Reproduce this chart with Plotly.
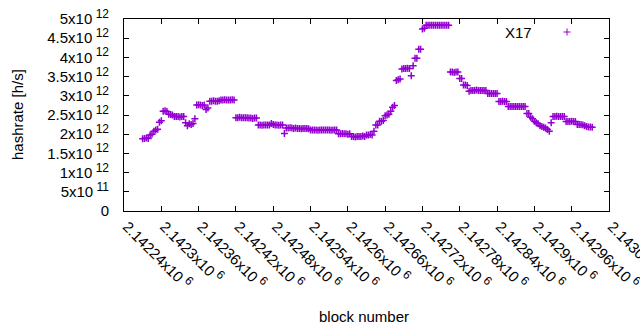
import plotly.graph_objects as go

# block numbers (every 3rd block) and hashrate (units of 1e12 h/s)
block_start = 2142270
block_step = 3
hashrate_t = [
    1.88, 1.89, 1.90, 1.89,              # 2142270-279
    1.98, 2.00,                          # 282-285
    2.08, 2.11, 2.13,                    # 288-294
    2.31, 2.35,                          # 297-300
    2.60, 2.61, 2.59,                    # 303-309
    2.52, 2.51, 2.50,                    # 312-318
    2.46, 2.46, 2.46, 2.45, 2.46, 2.46,  # 321-336
    2.30, 2.22, 2.27, 2.25, 2.28,        # 339-351
    2.40,                                # 354
    2.76, 2.77, 2.76, 2.75, 2.76,        # 357-369
    2.64, 2.68,                          # 372-375
    2.86, 2.86, 2.87, 2.86, 2.86, 2.87,  # 378-393
    2.89, 2.89, 2.90, 2.89, 2.89, 2.89, 2.90, 2.89,  # 396-417
    2.43, 2.43, 2.44, 2.43, 2.43, 2.43, 2.43,        # 420-438
    2.42, 2.42, 2.41, 2.42, 2.42,        # 441-453
    2.24, 2.24, 2.23, 2.24, 2.24, 2.24, 2.24, 2.28,  # 456-477
    2.25, 2.24, 2.24, 2.23, 2.24, 2.24, 2.02,        # 480-498
    2.16, 2.16, 2.17, 2.16, 2.15, 2.16,  # 501-516
    2.15, 2.15, 2.14, 2.15, 2.15, 2.15, 2.14,        # 519-537
    2.11, 2.11, 2.11, 2.11, 2.10, 2.11, 2.11, 2.11, 2.11, 2.11, 2.11, 2.10, 2.11, 2.11, 2.11,  # 540-582
    2.01, 2.01, 2.02, 2.01, 2.01, 2.00, 2.01,        # 585-603
    1.94, 1.94, 1.93, 1.94, 1.94, 1.94, 1.95, 1.94,  # 606-627
    1.98, 1.98, 1.99, 1.98,              # 630-639
    2.08,                                # 642
    2.24, 2.24, 2.34, 2.34, 2.36,        # 645-657
    2.48, 2.50, 2.52,                    # 660-666
    2.60, 2.70, 2.75,                    # 669-675
    3.40, 3.42, 3.44,                    # 678-684
    3.70, 3.71, 3.71, 3.72, 3.71,        # 687-699
    3.52, 3.78,                          # 702-705
    3.98, 3.98,                          # 708-711
    4.21, 4.21,                          # 714-717
    4.74, 4.76,                          # 720-723
    4.84, 4.84, 4.84, 4.84, 4.84, 4.84, 4.84, 4.84, 4.84, 4.84, 4.84, 4.84, 4.84,  # 726-762
    3.62, 3.62, 3.61, 3.62, 3.62,        # 765-777
    3.45, 3.45,                          # 780-783
    3.28, 3.28, 3.27,                    # 786-792
    3.12,                                # 795
    3.14, 3.14, 3.14, 3.15, 3.14, 3.14, 3.14, 3.14, 3.14,  # 798-822
    3.06, 3.06, 3.06, 3.06, 3.06, 3.06,  # 825-840
    2.85, 2.85, 2.86, 2.85, 2.85,        # 843-855
    2.72, 2.72, 2.72, 2.72, 2.72, 2.72, 2.72, 2.72, 2.72, 2.72,  # 858-885
    2.54, 2.54,                          # 888-891
    2.44, 2.40, 2.34, 2.30, 2.27,        # 894-906
    2.22, 2.20, 2.18, 2.16, 2.12, 2.08,  # 909-924
    2.30,                                # 927
    2.46, 2.46, 2.47, 2.46, 2.46, 2.46, 2.46,  # 930-948
    2.33, 2.33, 2.33, 2.34, 2.33, 2.33,  # 951-966
    2.25, 2.25, 2.25, 2.24, 2.22, 2.20, 2.19, 2.19, 2.18,  # 969-993
]
blocks = [block_start + block_step * i for i in range(len(hashrate_t))]
hashrate = [v * 1e12 for v in hashrate_t]

x_tickvals = [2142240, 2142300, 2142360, 2142420, 2142480, 2142540, 2142600,
              2142660, 2142720, 2142780, 2142840, 2142900, 2142960, 2143020]
x_tick_mantissa = ["2.14224", "2.1423", "2.14236", "2.14242", "2.14248", "2.14254", "2.1426",
                   "2.14266", "2.14272", "2.14278", "2.14284", "2.1429", "2.14296", "2.14302"]
x_tick_exp = "6"
y_tickvals = [0, 0.5e12, 1e12, 1.5e12, 2e12, 2.5e12, 3e12, 3.5e12, 4e12, 4.5e12, 5e12]
y_tick_mantissa = ["0", "5", "1", "1.5", "2", "2.5", "3", "3.5", "4", "4.5", "5"]
y_tick_exp = ["", "11", "12", "12", "12", "12", "12", "12", "12", "12", "12"]


def sci(m, e):
    if not e:
        return m
    return f"{m}x10<sup><span style='font-size:12px'> {e}</span></sup>"


x_ticktext = [sci(m, x_tick_exp) for m in x_tick_mantissa]
y_ticktext = [sci(m, e) for m, e in zip(y_tick_mantissa, y_tick_exp)]

PURPLE = "#9400D3"
FONT = dict(family="Liberation Sans, Arial, sans-serif", size=15, color="black")

fig = go.Figure()
fig.add_trace(go.Scatter(
    x=blocks, y=hashrate, mode="markers", name="X17",
    marker=dict(symbol="cross-thin", size=5, line=dict(color=PURPLE, width=1.5)),
    showlegend=False,
))

L, R, T, B = 124, 31, 19, 119
W, H = 640, 330
pw, ph = W - L - R, H - T - B

fig.update_layout(
    width=W, height=H,
    margin=dict(l=L, r=R, t=T, b=B, pad=0, autoexpand=False),
    paper_bgcolor="white", plot_bgcolor="white",
    font=FONT,
    showlegend=False,
)
fig.update_xaxes(
    range=[2142240, 2143020], tickmode="array", tickvals=x_tickvals, ticktext=x_ticktext,
    tickangle=45, ticks="inside", ticklen=5, tickcolor="black", tickwidth=1,
    showline=True, linecolor="black", linewidth=1, mirror="ticks",
    showgrid=False, zeroline=False, tickfont=FONT, automargin=False,
    ticklabeloverflow="allow", ticklabelshift=3,
)
fig.update_yaxes(
    range=[0, 5e12], tickmode="array", tickvals=y_tickvals, ticktext=y_ticktext,
    ticks="inside", ticklen=5, tickcolor="black", tickwidth=1,
    showline=True, linecolor="black", linewidth=1, mirror="ticks",
    showgrid=False, zeroline=False, tickfont=FONT, ticklabelstandoff=11, automargin=False,
    ticklabeloverflow="allow",
)

# axis titles
fig.add_annotation(text="block number", xref="paper", yref="paper",
                   x=(364 - L) / pw, y=(H - B - 316) / ph, showarrow=False,
                   xanchor="center", yanchor="middle", font=FONT)
fig.add_annotation(text="hashrate [h/s]", xref="paper", yref="paper",
                   x=(17 - L) / pw, y=0.5, showarrow=False, textangle=-90,
                   xanchor="center", yanchor="middle", font=FONT)

# key (text then sample, gnuplot style)
key_y = (H - B - 32) / ph
fig.add_annotation(text="X17", xref="paper", yref="paper",
                   x=(534 - L) / pw, y=key_y, showarrow=False,
                   xanchor="right", yanchor="middle", font=FONT)
kx = (567 - L) / pw
fig.add_shape(type="line", xref="paper", yref="paper", xsizemode="pixel", ysizemode="pixel",
              xanchor=kx, yanchor=key_y, x0=-3.5, x1=3.5, y0=0, y1=0,
              line=dict(color=PURPLE, width=1))
fig.add_shape(type="line", xref="paper", yref="paper", xsizemode="pixel", ysizemode="pixel",
              xanchor=kx, yanchor=key_y, x0=0, x1=0, y0=-3.5, y1=3.5,
              line=dict(color=PURPLE, width=1))

fig.write_html("out.html", config={"displayModeBar": False},
               post_script="document.body.style.margin='0';document.body.style.overflow='hidden';")
